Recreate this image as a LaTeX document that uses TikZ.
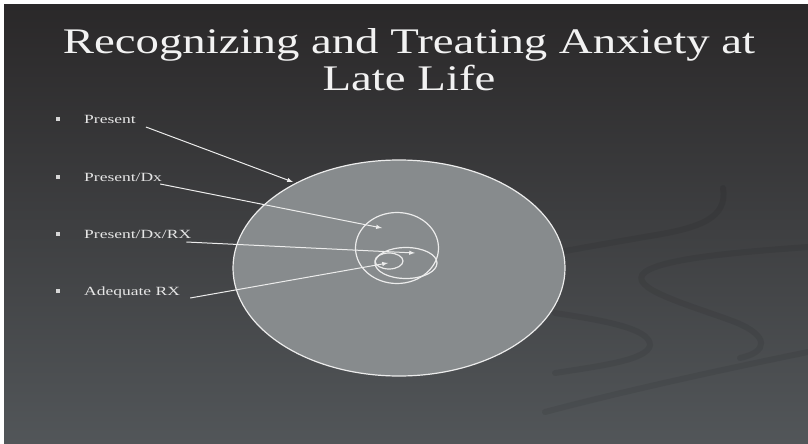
\documentclass[tikz,border=0pt]{standalone}
\usepackage{fontspec}
\usepackage{tikz}
\usetikzlibrary{shapes,arrows}
\newfontfamily\titlefont[FakeStretch=1.3]{Liberation Serif}
\newfontfamily\itemfont[FakeStretch=1.4]{Liberation Serif}
\definecolor{bgtop}{HTML}{2A2829}
\definecolor{bgbot}{HTML}{525659}
\definecolor{discfill}{HTML}{878B8D}
\definecolor{linecol}{HTML}{ECECEC}
\definecolor{textcol}{HTML}{E6E6E6}
\tikzstyle{ring} = [ellipse, draw=linecol, line width=1.2pt, inner sep=0pt]
\tikzstyle{arrow} = [draw=linecol, line width=1pt, -latex]
\tikzstyle{bullet} = [rectangle, fill=textcol!85!gray, minimum size=4.5pt, inner sep=0pt]
\tikzstyle{itemtext} = [text=textcol, font=\itemfont\fontsize{12.5}{14}\selectfont, anchor=base west, inner sep=0pt]
\tikzstyle{swirl} = [draw=black, line width=6pt, line cap=round, draw opacity=0.07]

\begin{document}
\begin{tikzpicture}[x=1pt, y=-1pt]
    
    \fill[white] (0,0) rectangle (808,444);
    \shade[top color=bgtop, bottom color=bgbot] (4,5) rectangle (808,444);
    \useasboundingbox (0,0) rectangle (808,444);
    
    % template swirls
    \path[swirl] (723,188) .. controls (728,218) and (700,228) .. (650,236) .. controls (610,243) and (580,248) .. (550,254);
    \path[swirl] (808,247) .. controls (740,252) and (665,258) .. (645,272) .. controls (625,288) and (690,305) .. (735,322) .. controls (770,336) and (768,352) .. (740,358);
    \path[swirl] (555,313) .. controls (600,320) and (650,328) .. (650,345) .. controls (648,360) and (600,366) .. (555,373);
    \path[swirl] (808,352) .. controls (720,370) and (620,392) .. (545,412);
    
    \node[text=white!95!black, align=center, font=\titlefont\fontsize{36}{37}\selectfont] (title) at (409,60) {Recognizing and Treating Anxiety at\\Late Life};
    
    \node[ring, fill=discfill, minimum width=332pt, minimum height=216pt] (disc) at (399,268) {};
    \node[ring, minimum width=83pt, minimum height=71pt] (dxring) at (397,248) {};
    \node[ring, minimum width=62pt, minimum height=31pt] (rxring) at (406,263) {};
    \node[ring, minimum width=28pt, minimum height=16pt] (adring) at (389,261) {};
    
    \node[bullet] (b1) at (58,119) {};
    \node[bullet] (b2) at (58,177) {};
    \node[bullet] (b3) at (58,234) {};
    \node[bullet] (b4) at (58,291) {};
    \node[itemtext] (present) at (84,123) {Present};
    \node[itemtext] (presdx) at (84,181) {Present/Dx};
    \node[itemtext] (presdxrx) at (84,238) {Present/Dx/RX};
    \node[itemtext] (adequate) at (84,295) {Adequate RX};
    
    \coordinate (tip1) at (293,182);
    \coordinate (tip2) at (382,228);
    \coordinate (tip3) at (415,253);
    \coordinate (tip4) at (388,263);
    
    \path[arrow] ([xshift=10pt,yshift=-4pt]present.base east) to (tip1);
    \path[arrow] ([xshift=-2pt,yshift=-3pt]presdx.base east) to (tip2);
    \path[arrow] ([xshift=-5pt,yshift=-4pt]presdxrx.base east) to (tip3);
    \path[arrow] ([xshift=10pt,yshift=-3pt]adequate.base east) to (tip4);
    
\end{tikzpicture}
\end{document}
